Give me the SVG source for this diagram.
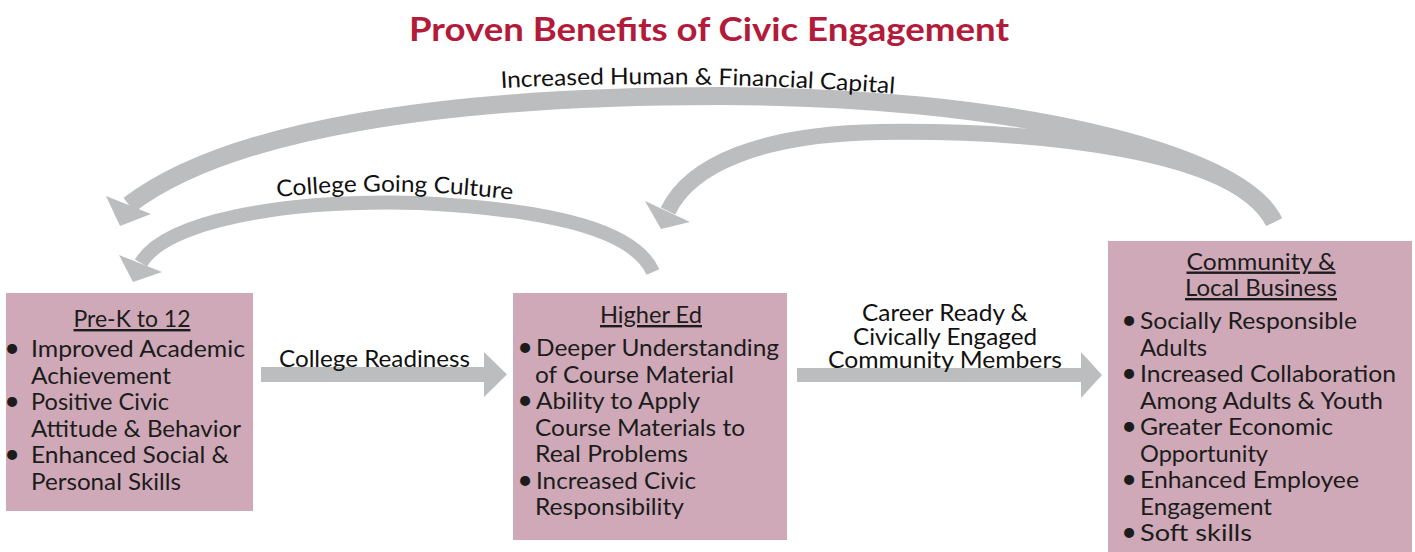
<svg xmlns="http://www.w3.org/2000/svg" width="1415" height="552" viewBox="0 0 1415 552">
  <defs>
    <style>
      .box { fill: #CFA9B7; }
      .flow { fill: none; stroke: #BBBDBF; stroke-linecap: butt; }
      .head { fill: #BBBDBF; }
      .t { font-family: Lato, "Open Sans", "Liberation Sans", sans-serif; font-size: 24px; fill: #1c1c1c; }
      .lbl { font-family: Lato, "Open Sans", "Liberation Sans", sans-serif; font-size: 24px; fill: #111; }
      .arc { font-family: Lato, "Open Sans", "Liberation Sans", sans-serif; font-size: 23px; fill: #111; }
      .bul { font-family: Lato, "Open Sans", "Liberation Sans", sans-serif; font-size: 27px; fill: #1c1c1c; text-anchor: middle; }
      .hd { text-anchor: middle; text-decoration: underline; }
      .mid { text-anchor: middle; }
      .title { font-family: Lato, "Open Sans", "Liberation Sans", sans-serif; font-size: 33px; font-weight: bold; fill: #B31B3B; }
    </style>
    <path id="capPath" d="M 501 88 Q 690 78 900 94"/>
    <path id="culturePath" d="M 277 197 Q 395 185 515 200"/>
  </defs>

  <rect width="1415" height="552" fill="#FFFFFF"/>

  <text class="title" x="409" y="41" textLength="600" lengthAdjust="spacingAndGlyphs">Proven Benefits of Civic Engagement</text>

  <!-- connectors: feedback arcs and forward arrows -->
  <g id="connectors">
    <!-- Community -> Pre-K (outer arc) -->
    <path class="flow" stroke-width="18" d="M 1274 222 C 1240 150, 1000 96, 720 96 C 450 96, 230 128, 129 205"/>
    <polygon class="head" points="106,196 151,214 120,226"/>
    <!-- Community -> Higher Ed -->
    <path class="flow" stroke-width="16" d="M 1274 222 C 1235 150, 1040 130, 880 132 C 760 134, 690 165, 668 211"/>
    <polygon class="head" points="645,201 690,222 661,229"/>
    <!-- Higher Ed -> Pre-K -->
    <path class="flow" stroke-width="14" d="M 653 272 C 635 232, 560 210, 420 203 C 280 199, 165 222, 141 263"/>
    <polygon class="head" points="119,255 162,272 133,282"/>
    <!-- Pre-K -> Higher Ed -->
    <polygon class="head" points="261,367 484,367 484,352 507,374.5 484,397 484,382 261,382"/>
    <!-- Higher Ed -> Community -->
    <polygon class="head" points="797,368 1081,368 1081,352 1102,375 1081,398 1081,382 797,382"/>

    <text class="arc"><textPath href="#capPath" textLength="394" lengthAdjust="spacingAndGlyphs">Increased Human &amp; Financial Capital</textPath></text>
    <text class="arc"><textPath href="#culturePath" textLength="236" lengthAdjust="spacingAndGlyphs">College Going Culture</textPath></text>
    <text class="lbl" x="279" y="367" textLength="191" lengthAdjust="spacingAndGlyphs">College Readiness</text>
    <text class="lbl mid" x="945" y="321" textLength="166" lengthAdjust="spacingAndGlyphs">Career Ready &amp;</text>
    <text class="lbl mid" x="945" y="345" textLength="184" lengthAdjust="spacingAndGlyphs">Civically Engaged</text>
    <text class="lbl mid" x="945" y="367.5" textLength="234" lengthAdjust="spacingAndGlyphs">Community Members</text>
  </g>

  <g id="prek">
    <rect class="box" x="6" y="293" width="247" height="218"/>
    <text class="t hd" x="132" y="327" textLength="117" lengthAdjust="spacingAndGlyphs">Pre-K to 12</text>
    <text class="bul" x="12" y="357">•</text>
    <text class="bul" x="12" y="410">•</text>
    <text class="bul" x="12" y="463">•</text>
    <text class="t" x="31" y="357" textLength="214" lengthAdjust="spacingAndGlyphs">Improved Academic</text>
    <text class="t" x="31" y="383.5" textLength="140" lengthAdjust="spacingAndGlyphs">Achievement</text>
    <text class="t" x="31" y="410" textLength="138" lengthAdjust="spacingAndGlyphs">Positive Civic</text>
    <text class="t" x="31" y="436.5" textLength="210" lengthAdjust="spacingAndGlyphs">Attitude &amp; Behavior</text>
    <text class="t" x="31" y="463" textLength="198" lengthAdjust="spacingAndGlyphs">Enhanced Social &amp;</text>
    <text class="t" x="31" y="489.5" textLength="150" lengthAdjust="spacingAndGlyphs">Personal Skills</text>
  </g>

  <g id="higher-ed">
    <rect class="box" x="513" y="293" width="274" height="247"/>
    <text class="t hd" x="651" y="323" textLength="102" lengthAdjust="spacingAndGlyphs">Higher Ed</text>
    <text class="bul" x="525" y="356">•</text>
    <text class="bul" x="525" y="409">•</text>
    <text class="bul" x="525" y="488.5">•</text>
    <text class="t" x="536" y="356" textLength="243" lengthAdjust="spacingAndGlyphs">Deeper Understanding</text>
    <text class="t" x="535" y="382.5" textLength="199" lengthAdjust="spacingAndGlyphs">of Course Material</text>
    <text class="t" x="536" y="409" textLength="164" lengthAdjust="spacingAndGlyphs">Ability to Apply</text>
    <text class="t" x="535" y="435.5" textLength="210" lengthAdjust="spacingAndGlyphs">Course Materials to</text>
    <text class="t" x="535" y="462" textLength="153" lengthAdjust="spacingAndGlyphs">Real Problems</text>
    <text class="t" x="536" y="488.5" textLength="160" lengthAdjust="spacingAndGlyphs">Increased Civic</text>
    <text class="t" x="535" y="515" textLength="149" lengthAdjust="spacingAndGlyphs">Responsibility</text>
  </g>

  <g id="community">
    <rect class="box" x="1108" y="241" width="304" height="311"/>
    <text class="t hd" x="1261" y="269.5" textLength="149" lengthAdjust="spacingAndGlyphs">Community &amp;</text>
    <text class="t hd" x="1261" y="296" textLength="152" lengthAdjust="spacingAndGlyphs">Local Business</text>
    <text class="bul" x="1129" y="329">•</text>
    <text class="bul" x="1129" y="382">•</text>
    <text class="bul" x="1129" y="435">•</text>
    <text class="bul" x="1129" y="488">•</text>
    <text class="bul" x="1129" y="541">•</text>
    <text class="t" x="1140" y="329" textLength="217" lengthAdjust="spacingAndGlyphs">Socially Responsible</text>
    <text class="t" x="1140" y="355.5" textLength="67" lengthAdjust="spacingAndGlyphs">Adults</text>
    <text class="t" x="1140" y="382" textLength="256" lengthAdjust="spacingAndGlyphs">Increased Collaboration</text>
    <text class="t" x="1140" y="408.5" textLength="243" lengthAdjust="spacingAndGlyphs">Among Adults &amp; Youth</text>
    <text class="t" x="1140" y="435" textLength="193" lengthAdjust="spacingAndGlyphs">Greater Economic</text>
    <text class="t" x="1140" y="461.5" textLength="128" lengthAdjust="spacingAndGlyphs">Opportunity</text>
    <text class="t" x="1140" y="488" textLength="219" lengthAdjust="spacingAndGlyphs">Enhanced Employee</text>
    <text class="t" x="1140" y="514.5" textLength="132" lengthAdjust="spacingAndGlyphs">Engagement</text>
    <text class="t" x="1140" y="541" textLength="112" lengthAdjust="spacingAndGlyphs">Soft skills</text>
  </g>
</svg>
